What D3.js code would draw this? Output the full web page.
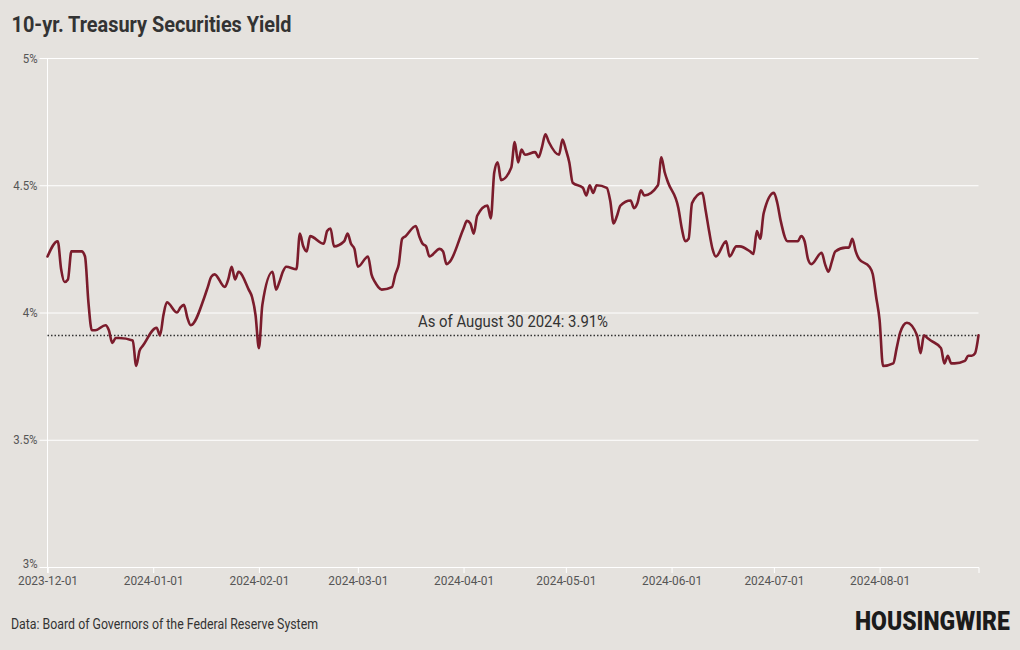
<!DOCTYPE html>
<html>
<head>
<meta charset="utf-8">
<script src="https://cdn.jsdelivr.net/npm/d3@7"></script>
<style>
  html, body { margin: 0; padding: 0; background: #e5e2de; }
  svg { display: block; }
  text { font-family: Roboto, "Noto Sans", sans-serif; }
</style>
</head>
<body>
<svg id="chart" width="1020" height="650"></svg>
<script>
// ---- data ----
const dates = [
  "2023-12-01","2023-12-04","2023-12-05","2023-12-06","2023-12-07","2023-12-08","2023-12-11","2023-12-12","2023-12-13","2023-12-14",
  "2023-12-15","2023-12-18","2023-12-19","2023-12-20","2023-12-21","2023-12-22","2023-12-26","2023-12-27","2023-12-28","2023-12-29",
  "2024-01-02","2024-01-03","2024-01-04","2024-01-05","2024-01-08","2024-01-09","2024-01-10","2024-01-11","2024-01-12","2024-01-16",
  "2024-01-17","2024-01-18","2024-01-19","2024-01-22","2024-01-23","2024-01-24","2024-01-25","2024-01-26","2024-01-29","2024-01-30",
  "2024-01-31","2024-02-01","2024-02-02","2024-02-05","2024-02-06","2024-02-07","2024-02-08","2024-02-09","2024-02-12","2024-02-13",
  "2024-02-14","2024-02-15","2024-02-16","2024-02-20","2024-02-21","2024-02-22","2024-02-23","2024-02-26","2024-02-27","2024-02-28",
  "2024-02-29","2024-03-01","2024-03-04","2024-03-05","2024-03-06","2024-03-07","2024-03-08","2024-03-11","2024-03-12","2024-03-13",
  "2024-03-14","2024-03-15","2024-03-18","2024-03-19","2024-03-20","2024-03-21","2024-03-22","2024-03-25","2024-03-26","2024-03-27",
  "2024-03-28","2024-04-01","2024-04-02","2024-04-03","2024-04-04","2024-04-05","2024-04-08","2024-04-09","2024-04-10","2024-04-11",
  "2024-04-12","2024-04-15","2024-04-16","2024-04-17","2024-04-18","2024-04-19","2024-04-22","2024-04-23","2024-04-24","2024-04-25",
  "2024-04-26","2024-04-29","2024-04-30","2024-05-01","2024-05-02","2024-05-03","2024-05-06","2024-05-07","2024-05-08","2024-05-09",
  "2024-05-10","2024-05-13","2024-05-14","2024-05-15","2024-05-16","2024-05-17","2024-05-20","2024-05-21","2024-05-22","2024-05-23",
  "2024-05-24","2024-05-28","2024-05-29","2024-05-30","2024-05-31","2024-06-03","2024-06-04","2024-06-05","2024-06-06","2024-06-07",
  "2024-06-10","2024-06-11","2024-06-12","2024-06-13","2024-06-14","2024-06-17","2024-06-18","2024-06-20","2024-06-21","2024-06-24",
  "2024-06-25","2024-06-26","2024-06-27","2024-06-28","2024-07-01","2024-07-02","2024-07-03","2024-07-05","2024-07-08","2024-07-09",
  "2024-07-10","2024-07-11","2024-07-12","2024-07-15","2024-07-16","2024-07-17","2024-07-18","2024-07-19","2024-07-22","2024-07-23",
  "2024-07-24","2024-07-25","2024-07-26","2024-07-29","2024-07-30","2024-07-31","2024-08-01","2024-08-02","2024-08-05","2024-08-06",
  "2024-08-07","2024-08-08","2024-08-09","2024-08-12","2024-08-13","2024-08-14","2024-08-15","2024-08-16","2024-08-19","2024-08-20",
  "2024-08-21","2024-08-22","2024-08-23","2024-08-26","2024-08-27","2024-08-28","2024-08-29","2024-08-30"
];
const yields = [
  4.22,4.28,4.17,4.12,4.13,4.24,4.24,4.22,4.04,3.93,
  3.93,3.95,3.93,3.88,3.90,3.90,3.89,3.79,3.85,3.87,
  3.94,3.91,3.99,4.04,4.00,4.02,4.03,3.98,3.95,4.06,
  4.10,4.14,4.15,4.10,4.13,4.18,4.13,4.16,4.09,4.06,
  3.99,3.86,4.03,4.16,4.09,4.12,4.16,4.18,4.17,4.31,
  4.26,4.24,4.30,4.27,4.32,4.33,4.26,4.28,4.31,4.27,
  4.25,4.18,4.22,4.15,4.12,4.10,4.09,4.10,4.15,4.19,
  4.29,4.30,4.34,4.30,4.27,4.26,4.22,4.25,4.24,4.19,
  4.20,4.33,4.36,4.35,4.31,4.38,4.42,4.37,4.55,4.59,
  4.52,4.57,4.67,4.59,4.64,4.62,4.63,4.61,4.65,4.70,
  4.67,4.62,4.68,4.64,4.59,4.51,4.49,4.46,4.50,4.47,
  4.50,4.49,4.44,4.35,4.38,4.42,4.44,4.41,4.43,4.48,
  4.46,4.50,4.61,4.55,4.51,4.41,4.33,4.28,4.29,4.43,
  4.47,4.40,4.32,4.25,4.22,4.28,4.22,4.26,4.26,4.24,
  4.23,4.32,4.29,4.39,4.47,4.43,4.36,4.28,4.28,4.30,
  4.28,4.21,4.19,4.235,4.19,4.16,4.20,4.24,4.255,4.255,
  4.29,4.24,4.21,4.18,4.15,4.06,3.97,3.79,3.80,3.86,
  3.92,3.95,3.96,3.91,3.84,3.91,3.90,3.89,3.86,3.80,
  3.83,3.80,3.80,3.81,3.83,3.83,3.84,3.91
];
const latestValue = 3.91;
const yTickValues = [3, 3.5, 4, 4.5, 5];
const yTickLabels = ["3%", "3.5%", "4%", "4.5%", "5%"];
const xTickLabels = ["2023-12-01","2024-01-01","2024-02-01","2024-03-01","2024-04-01","2024-05-01","2024-06-01","2024-07-01","2024-08-01"];
const titleText = "10-yr. Treasury Securities Yield";
const sourceText = "Data: Board of Governors of the Federal Reserve System";
const annotationText = "As of August 30 2024: 3.91%";
const logoText = "HOUSINGWIRE";

// ---- chart ----
(function draw() {
  const parse = d3.utcParse("%Y-%m-%d");
  const data = dates.map((d, i) => ({ date: parse(d), value: yields[i] }));

  const svg = d3.select("#chart");
  const pL = 47.5, pR = 978.5, pT = 58, pB = 567;

  svg.append("rect").attr("width", 1020).attr("height", 650).attr("fill", "#e5e2de");

  const x = d3.scaleUtc().domain(d3.extent(data, d => d.date)).range([pL, pR]);
  const y = d3.scaleLinear().domain([3, 5]).range([pB, pT]);

  // horizontal gridlines + y axis
  const yAxis = d3.axisLeft(y)
    .tickValues(yTickValues)
    .tickFormat((d, i) => yTickLabels[i])
    .tickSize(8)
    .tickPadding(2);
  const gy = svg.append("g").attr("transform", `translate(${pL},0)`).call(yAxis);
  gy.select(".domain").remove();
  gy.selectAll(".tick line").attr("stroke", "#ffffff").attr("stroke-width", 1)
    .attr("x1", -8).attr("x2", pR - pL);
  gy.selectAll(".tick text").attr("fill", "#555").attr("font-size", 13).attr("class", "cond-y")
    .attr("dy", d => d === 3 ? "0.05em" : "0.32em");

  // left axis line
  svg.append("line").attr("x1", pL).attr("x2", pL).attr("y1", pT).attr("y2", pB + 6)
    .attr("stroke", "#ffffff").attr("stroke-width", 1);

  // x axis
  const xAxis = d3.axisBottom(x)
    .tickValues(xTickLabels.map(parse))
    .tickFormat(d3.utcFormat("%Y-%m-%d"))
    .tickSize(6)
    .tickPadding(2);
  const gx = svg.append("g").attr("transform", `translate(0,${pB})`).call(xAxis);
  gx.select(".domain").attr("stroke", "#ffffff");
  gx.selectAll(".tick line").attr("stroke", "#ffffff");
  gx.selectAll(".tick text").attr("fill", "#555").attr("font-size", 13.5).attr("class", "cond-x");

  // reference dotted line for latest value
  svg.append("line")
    .attr("x1", pL).attr("x2", pR)
    .attr("y1", y(latestValue)).attr("y2", y(latestValue))
    .attr("stroke", "#333").attr("stroke-width", 1.5).attr("stroke-dasharray", "1.5,2");

  svg.append("text")
    .attr("x", (pL + pR) / 2).attr("y", y(latestValue) - 8.5)
    .attr("text-anchor", "middle").attr("font-size", 16).attr("fill", "#333")
    .attr("data-w", 190)
    .text(annotationText);

  // line
  const line = d3.line().x(d => x(d.date)).y(d => y(d.value)).curve(d3.curveMonotoneX);
  svg.append("path").datum(data)
    .attr("d", line)
    .attr("fill", "none").attr("stroke", "#7b1c2c").attr("stroke-width", 2.6)
    .attr("stroke-linejoin", "round").attr("stroke-linecap", "round");

  // title
  svg.append("text").attr("x", 11.5).attr("y", 32)
    .attr("font-size", 22).attr("font-weight", 700).attr("fill", "#333")
    .attr("data-w", 280)
    .text(titleText);

  // source
  svg.append("text").attr("x", 11).attr("y", 628.5)
    .attr("font-size", 14).attr("fill", "#333")
    .attr("data-w", 307)
    .text(sourceText);

  // condense texts
  svg.selectAll("text").each(function() {
    const el = this;
    const w = el.getComputedTextLength();
    let target = null;
    if (el.hasAttribute("data-w")) target = +el.getAttribute("data-w");
    else if (el.classList.contains("cond-x")) target = 60;
    else if (el.classList.contains("cond-y")) target = w * 0.88;
    if (target) {
      el.setAttribute("textLength", target);
      el.setAttribute("lengthAdjust", "spacingAndGlyphs");
    }
  });

  // logo (scaled horizontally so its box stays inside the page)
  const logo = svg.append("text")
    .attr("x", 0).attr("y", 0)
    .attr("font-size", 25).attr("font-weight", 900).attr("fill", "#1b1b1b")
    .text(logoText);
  const lw = logo.node().getComputedTextLength();
  logo.attr("transform", `translate(855,630) scale(${155 / lw},1)`);
})();
</script>
</body>
</html>
